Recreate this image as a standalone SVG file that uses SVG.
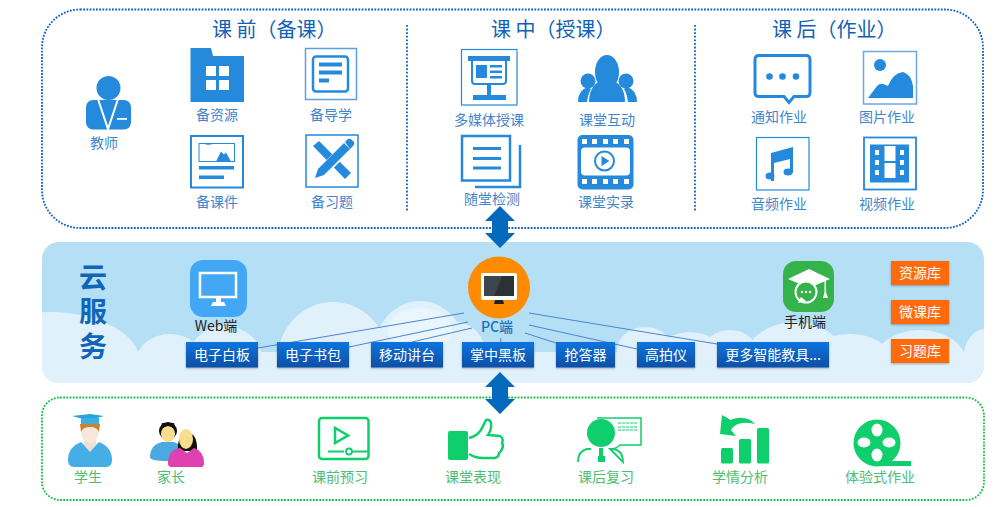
<svg xmlns="http://www.w3.org/2000/svg" width="1000" height="507" viewBox="0 0 1000 507">
<style>
text{font-family:"Noto Sans CJK SC","Noto Sans",sans-serif;text-anchor:middle}
.lb{font-size:14px;fill:#3f86cc}
.gl{font-size:14px;fill:#4dbd73}
.ti{font-size:20px;fill:#0f62b5;text-anchor:start}
.bt{font-size:14px;fill:#fff}
.dk{font-size:14px;fill:#222}
.yun{font-size:28px;font-weight:700;fill:#0f66b8}
.b{fill:#2589dc}
.o{fill:none;stroke:#2589dc}
.w{fill:#fff}
.g{fill:#0ecf6c}
.go{fill:none;stroke:#0ecf6c}
.btn{fill:url(#bg);filter:url(#sh)}
.org{fill:#ff6a0d;filter:url(#sh)}
.link{stroke:#4a86d0;stroke-width:1;fill:none}
.arrow{fill:#0369bd}
</style>
<defs>
<linearGradient id="bg" x1="0" y1="0" x2="0" y2="1"><stop offset="0" stop-color="#0b74de"/><stop offset="1" stop-color="#0a4fa6"/></linearGradient>
<filter id="sh" x="-10%" y="-20%" width="120%" height="150%"><feDropShadow dx="0" dy="1" stdDeviation="0.8" flood-color="#000" flood-opacity=".3"/></filter>
<clipPath id="band"><rect x="42" y="242" width="942" height="141" rx="17"/></clipPath>
</defs>

<g id="panel-top">
<rect x="42" y="9.500" width="941" height="218.500" rx="38" fill="#fff" stroke="#0f5fc4" stroke-width="1.800" stroke-dasharray="1.800 1.400"/>
<path d="M407 25V211M695 25V211" stroke="#0f5fc4" stroke-width="1.800" stroke-dasharray="1.800 1.800" fill="none"/>
<text class="ti" x="212" y="37">课 前（备课）</text>
<text class="ti" x="491" y="37">课 中（授课）</text>
<text class="ti" x="772" y="37">课 后（作业）</text>
</g>

<g id="cloud-band">
<rect x="42" y="242" width="942" height="141" rx="17" fill="#b5dff4"/>
<g clip-path="url(#band)" fill="#e1f1fb">
<rect x="42" y="352" width="942" height="31"/>
<ellipse cx="50" cy="362" rx="90" ry="50"/>
<ellipse cx="170" cy="362" rx="34" ry="28"/>
<ellipse cx="225" cy="362" rx="38" ry="36"/>
<ellipse cx="333" cy="362" rx="56" ry="60"/>
<ellipse cx="420" cy="352" rx="46" ry="51"/>
<ellipse cx="455" cy="352" rx="30" ry="30"/>
<ellipse cx="645" cy="350" rx="28" ry="23"/>
<ellipse cx="690" cy="352" rx="30" ry="20"/>
<ellipse cx="730" cy="354" rx="28" ry="24"/>
<ellipse cx="795" cy="360" rx="50" ry="38"/>
<ellipse cx="850" cy="358" rx="40" ry="24"/>
<ellipse cx="920" cy="362" rx="46" ry="32"/>
<ellipse cx="985" cy="360" rx="22" ry="31"/>
<ellipse cx="420" cy="330" rx="32" ry="22" fill="#eaf6fd"/>
</g>
<text class="yun"><tspan x="93" y="288">云</tspan><tspan x="93" y="322">服</tspan><tspan x="93" y="357">务</tspan></text>
</g>

<g id="panel-bottom">
<rect x="42" y="397.500" width="942" height="102.500" rx="18" fill="none" stroke="#14bd44" stroke-width="1.800" stroke-dasharray="1.800 1.400"/>
</g>

<g id="connectors">
<path class="link" d="M258 348L464 313M349 347L468 322M412 342L472 328M500.700 338V342M529 313L717 344M529 325L637 349M525 333L556 343"/>
<path class="arrow" d="M500 206L515 221H508V233H515L500 248L485 233H492V221H485Z"/>
<path class="arrow" d="M500 372L515 387H508V399H515L500 414L485 399H492V387H485Z"/>
</g>

<g id="teacher">
<circle class="b" cx="108.500" cy="88" r="12"/>
<rect class="b" x="86" y="100" width="45" height="29.500" rx="7"/>
<path d="M98 99L108 129L118 99" fill="none" stroke="#fff" stroke-width="2"/>
<path class="b" d="M108.500 102l4 3-4 16-4-16z"/>
<rect class="w" x="117" y="118" width="10" height="1.800"/>
<text class="lb" x="104" y="148">教师</text>
</g>
<g id="bei-ziyuan">
<path class="b" d="M190.500 48H211L213 56H244V102H190.500Z"/>
<path class="w" d="M206 66h10v10h-10zM219 66h10v10h-10zM206 80h10v10h-10zM219 80h10v10h-10z"/>
<text class="lb" x="217" y="120">备资源</text>
</g>
<g id="bei-daoxue">
<rect x="305.500" y="48.500" width="51" height="51" fill="#fff" stroke="#5b9fe0" stroke-width="1.500"/>
<rect class="o" x="313" y="56.500" width="35" height="35" rx="3" stroke-width="2.500"/>
<path class="b" d="M319 62.500h23v4h-23zM319 70.500h23v4h-23zM319 78.500h10v4h-10z"/>
<text class="lb" x="331" y="120">备导学</text>
</g>
<g id="bei-kejian">
<rect class="o" x="191" y="136" width="52" height="51.500" stroke-width="2"/>
<rect class="o" x="199" y="143.500" width="35.500" height="18" stroke-width="1"/>
<path class="b" d="M204 143.500a6 4 0 0 0 9 0zM216 161.500l5-10 3 3 2-2 5 9z"/>
<path class="b" d="M199 166h35v3.500h-35zM199 175.500h25v3.500h-25z"/>
<text class="lb" x="217" y="207">备课件</text>
</g>
<g id="bei-xiti">
<rect class="o" x="306" y="135" width="52" height="52" stroke-width="1.500"/>
<path class="b" d="M313 146l6-5 32 32-6 6z"/>
<path fill="#fff" stroke="#fff" stroke-width="2" d="M315 178l4-9 27-27 6 6-27 27z"/>
<path class="b" d="M315 178l3-9 26-26 6 6-26 26zM345 142l3-3q2-1 4 1l2 2q1 2-1 4l-3 3z"/>
<text class="lb" x="332" y="207">备习题</text>
</g>

<g id="duomeiti">
<rect class="o" x="461.500" y="49.500" width="55.500" height="55.500" stroke-width="1.200"/>
<path class="b" d="M468 56h42v5h-42z"/>
<path class="o" stroke-width="2" d="M472 61v20q0 3 3 3h28q3 0 3-3V61"/>
<path class="b" d="M476 65h11v13h-11zM490 65h12v2.500h-12zM490 70.500h12v2.500h-12zM490 76h12v2.500h-12zM487 85h4v10h-4zM473 95h33v5h-33z"/>
<text class="lb" x="489" y="125">多媒体授课</text>
</g>
<g id="hudong">
<ellipse class="b" cx="607" cy="72" rx="12" ry="17"/>
<path class="b" d="M589 102q0-20 18-23q18 3 18 23z"/>
<circle class="b" cx="588" cy="81" r="7.500"/>
<circle class="b" cx="626" cy="81" r="7.500"/>
<path class="b" d="M578 102q0-12 10-15l3 2q-3 5-4 13zM637 102q0-12-10-15l-3 2q3 5 4 13z"/>
<text class="lb" x="607" y="125">课堂互动</text>
</g>
<g id="suitang">
<rect class="o" x="462" y="136" width="48" height="44.500" stroke-width="2.500"/>
<path class="b" d="M473 147h28v3h-28zM473 157h28v3h-28zM473 166.500h28v3h-28z"/>
<path class="o" stroke-width="2.500" d="M520 145V187H475"/>
<text class="lb" x="492" y="204">随堂检测</text>
</g>
<g id="shilu">
<rect class="b" x="577.500" y="135" width="56" height="54.500" rx="5"/>
<rect class="w" x="581" y="147.500" width="49" height="28" rx="4"/>
<path class="w" d="M582 139h5v5h-5zM592 139h5v5h-5zM603 139h5v5h-5zM613 139h5v5h-5zM624 139h5v5h-5zM582 179h5v5h-5zM592 179h5v5h-5zM603 179h5v5h-5zM613 179h5v5h-5zM624 179h5v5h-5z"/>
<circle class="o" cx="604.500" cy="161" r="9.500" stroke-width="2"/>
<path class="b" d="M601.500 156l8 5-8 5z"/>
<text class="lb" x="606" y="207">课堂实录</text>
</g>

<g id="tongzhi">
<path class="o" stroke-width="3" d="M759 55.500h47q4 0 4 4v33q0 4-4 4h-12l-5 6-5-6h-25q-4 0-4-4v-33q0-4 4-4z"/>
<circle class="b" cx="769.500" cy="76.500" r="3.300"/><circle class="b" cx="782.500" cy="76.500" r="3.300"/><circle class="b" cx="796" cy="76.500" r="3.300"/>
<text class="lb" x="779" y="122">通知作业</text>
</g>
<g id="tupian">
<rect x="863.500" y="51.500" width="53" height="52.500" fill="#fff" stroke="#6ba8e2" stroke-width="1.500"/>
<circle class="b" cx="880" cy="65" r="6"/>
<path class="b" d="M868 98l9-12q3-3 6-2 3 1 5 2 5-13 15-14 8 2 10 14v12z"/>
<text class="lb" x="887" y="122">图片作业</text>
</g>
<g id="yinpin">
<rect class="o" x="756.500" y="137.500" width="52.500" height="52.500" stroke-width="1.200"/>
<path class="b" d="M771 153l22-6v26h-3v-14l-16 4v18h-3z"/>
<ellipse class="b" cx="770" cy="176" rx="4.500" ry="3.500"/>
<ellipse class="b" cx="788" cy="172" rx="4.500" ry="3.500"/>
<text class="lb" x="779" y="209">音频作业</text>
</g>
<g id="shipin">
<rect class="o" x="864" y="137.500" width="52" height="52" stroke-width="1.800"/>
<rect class="b" x="870" y="144.500" width="39" height="38"/>
<path class="w" d="M875 150h4v5h-4zM875 160h4v5h-4zM875 170h4v5h-4zM900 150h4v5h-4zM900 160h4v5h-4zM900 170h4v5h-4zM884.500 146h11v15h-11zM884.500 163h11v15h-11z"/>
<text class="lb" x="887" y="209">视频作业</text>
</g>

<g id="web">
<rect x="190" y="260" width="57" height="57" rx="13" fill="#42a8f5"/>
<rect x="200" y="273" width="36" height="24" fill="#42a8f5" stroke="#fff" stroke-width="2.500"/>
<path class="w" d="M216 298h5v4h3l2 4h-15l2-4h3z"/>
<text class="dk" x="216" y="331">Web端</text>
</g>
<g id="pc">
<circle cx="499" cy="287.500" r="31" fill="#ff8c00"/>
<rect x="481" y="273" width="36" height="27" rx="2" fill="#fff"/>
<rect x="484" y="276" width="30" height="20" fill="#2a3238"/>
<path d="M484 276h18l-8 20h-10z" fill="#3d464d"/>
<path d="M495 300h8l1 4h-10z" fill="#222"/>
<text x="497" y="332" style="font-size:14px;fill:#1a6fc0;font-weight:500">PC端</text>
</g>
<g id="mobile">
<rect x="783" y="261" width="51" height="51" rx="13" fill="#35b34a"/>
<path class="w" d="M809 269l21 10-21 9-21-9z"/>
<circle cx="806" cy="292" r="10.500" fill="#35b34a" stroke="#fff" stroke-width="2"/>
<path class="w" d="M801 297l-3 6 8-2z"/>
<circle class="w" cx="802" cy="292" r="1.200"/><circle class="w" cx="806" cy="292" r="1.200"/><circle class="w" cx="810" cy="292" r="1.200"/>
<path class="w" d="M824.500 281h1.500v11l2 6h-5l1.500-6z"/>
<text class="dk" x="805" y="327">手机端</text>
</g>

<g id="btn-1"><rect class="btn" x="186" y="342" width="72" height="25.500"/><text class="bt" x="222" y="360">电子白板</text></g>
<g id="btn-2"><rect class="btn" x="277" y="342" width="72" height="25.500"/><text class="bt" x="313" y="360">电子书包</text></g>
<g id="btn-3"><rect class="btn" x="371" y="342" width="72" height="25.500"/><text class="bt" x="407" y="360">移动讲台</text></g>
<g id="btn-4"><rect class="btn" x="462" y="342" width="72" height="25.500"/><text class="bt" x="498" y="360">掌中黑板</text></g>
<g id="btn-5"><rect class="btn" x="556" y="342" width="59" height="25.500"/><text class="bt" x="585.500" y="360">抢答器</text></g>
<g id="btn-6"><rect class="btn" x="637" y="342" width="58" height="25.500"/><text class="bt" x="666" y="360">高拍仪</text></g>
<g id="btn-7"><rect class="btn" x="717" y="342" width="112" height="25.500"/><text class="bt" x="773" y="360">更多智能教具...</text></g>

<g id="lib-1"><rect class="org" x="891" y="261" width="58" height="24"/><text class="bt" x="920" y="278">资源库</text></g>
<g id="lib-2"><rect class="org" x="891" y="300" width="58" height="24"/><text class="bt" x="920" y="317">微课库</text></g>
<g id="lib-3"><rect class="org" x="891" y="339" width="58" height="24"/><text class="bt" x="920" y="356">习题库</text></g>

<g id="student">
<path d="M68 460q0-13 13-18l9 9 9-9q13 5 13 18 0 7-6 7H74q-6 0-6-7z" fill="#46aee6"/>
<path d="M84 440h12v5l-6 7-6-7z" fill="#f0dfcf"/>
<ellipse cx="90" cy="431" rx="9" ry="12" fill="#f6e9dc"/>
<path d="M80 424h20l-1 8q-2-5-9-5t-9 5z" fill="#c9822e"/>
<path d="M72 416l18-2 14 2-14 4-3 0z" fill="#2aa3dc"/>
<path d="M81 418h18v6H81z" fill="#3bb0e0"/>
<text class="gl" x="88" y="482">学生</text>
</g>
<g id="parent">
<path d="M150 457q0-12 12-15h12l8 4v14l-14 1q-18 0-18-4z" fill="#4aa9df"/>
<circle cx="168" cy="431" r="9" fill="#111"/>
<ellipse cx="168" cy="434" rx="7" ry="8" fill="#f7dd8d"/>
<path d="M161 429q7-6 14 0l-1-6h-12z" fill="#111"/>
<path d="M178 451q-1-16 9-19 11 2 10 19z" fill="#111"/>
<ellipse cx="186" cy="439" rx="7" ry="10" fill="#f7dd8d"/>
<path d="M168 463q0-13 12-15l7 5 7-5q10 3 10 15 0 4-3 4h-30q-3 0-3-4z" fill="#e040b0"/>
<text class="gl" x="171" y="482">家长</text>
</g>
<g id="yuxi">
<rect class="go" x="319" y="418" width="49.500" height="41" rx="3" stroke-width="2.500"/>
<path class="go" stroke-width="2.500" d="M335 428v15l13-7.500z"/>
<path class="go" stroke-width="1.800" d="M328 451.500h16m8 0h16"/>
<circle class="go" stroke-width="1.800" cx="349" cy="451.500" r="3"/>
<text class="gl" x="340" y="482">课前预习</text>
</g>
<g id="biaoxian">
<rect class="g" x="448" y="431" width="20" height="29" rx="2"/>
<path class="go" stroke-width="2.500" d="M469 438q10-2 14-12l3-6q4-1 5 3 1 6-3 12l12 1q4 2 2 7 2 3 0 6-1 3-3 4 0 4-4 5h-12q-8 0-14-4"/>
<text class="gl" x="473" y="482">课堂表现</text>
</g>
<g id="fuxi">
<path class="go" stroke-width="1.500" d="M597 418h44v27h-21l-4 3-4 1"/>
<path class="go" stroke-width="1" stroke-dasharray="3 1" d="M618 423h19M618 427h19M618 430h19"/>
<ellipse class="g" cx="601" cy="433" rx="14" ry="14"/>
<path class="go" stroke-width="1.800" d="M578 462q0-11 9-13h4m19 0h4q9 2 9 13z"/>
<path class="g" d="M599 448h4v8h2v6h-7v-6h1z"/>
<text class="gl" x="606" y="482">课后复习</text>
</g>
<g id="fenxi">
<rect class="g" x="721" y="448" width="12" height="15.500" rx="1.500"/>
<rect class="g" x="739" y="439" width="12" height="24.500" rx="1.500"/>
<rect class="g" x="757" y="428" width="12" height="35.500" rx="1.500"/>
<path class="g" d="M722 415l-2 19 16 2-5-6q6-10 24-6-9-10-25-4-2-2-8-5z"/>
<text class="gl" x="740" y="482">学情分析</text>
</g>
<g id="tiyan">
<circle class="g" cx="877" cy="443" r="23.500"/>
<path class="g" d="M877 461h34v5h-34z"/>
<ellipse class="w" cx="877" cy="430" rx="5.500" ry="6.500"/>
<ellipse class="w" cx="877" cy="455" rx="5.500" ry="6.500"/>
<ellipse class="w" cx="864" cy="442.500" rx="6.500" ry="5"/>
<ellipse class="w" cx="889" cy="442.500" rx="6.500" ry="5"/>
<text class="gl" x="880" y="482">体验式作业</text>
</g>
</svg>
